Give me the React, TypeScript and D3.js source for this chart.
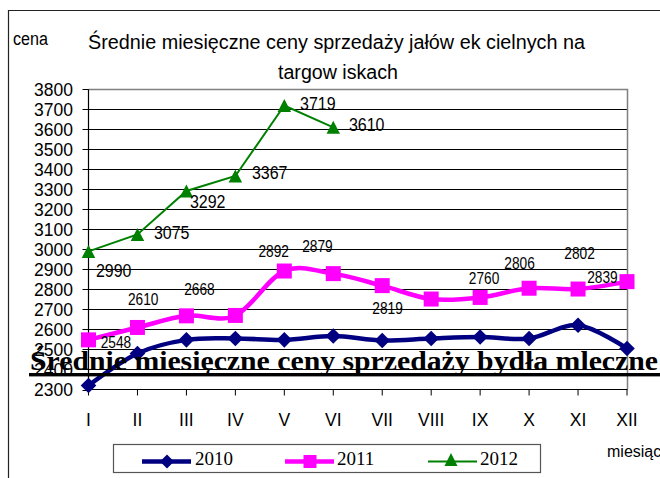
import React, { useRef, useEffect } from 'react';
import * as d3 from 'd3';

const months = ['I', 'II', 'III', 'IV', 'V', 'VI', 'VII', 'VIII', 'IX', 'X', 'XI', 'XII'];
const yTicks = [2300, 2400, 2500, 2600, 2700, 2800, 2900, 3000, 3100, 3200, 3300, 3400, 3500, 3600, 3700, 3800];

const prices2010 = [2320, 2480, 2548, 2555, 2548, 2567, 2545, 2555, 2562, 2555, 2621, 2505];
const prices2011 = [2548, 2610, 2668, 2670, 2892, 2879, 2819, 2752, 2760, 2806, 2802, 2839];
const prices2012 = [2990, 3075, 3292, 3367, 3719, 3610];

// which points carry a data label (Excel had them dragged around by hand)
const labeled2011 = [0, 1, 2, 4, 5, 6, 8, 9, 10, 11];
const labelOffset2011: [number, number][] = [
  [27.5, 1.8], [5.8, -28.2], [13, -26.8], [-10.6, -20.3], [-15.8, -27.6],
  [5.3, 22], [3.9, -19.1], [-9.5, -24.9], [1.5, -35.7], [-24.5, -4.9]
];
const labelOffset2012: [number, number][] = [
  [7.5, 19.3], [16.5, -1.4], [3.6, 10.7], [16.6, -3], [15.7, -1.5], [15.7, -2.3]
];

const legendItems = ['2010', '2011', '2012'];

const NAVY = '#000080';
const PINK = '#FF00FF';
const GREEN = '#008000';
const SANS = 'Arial, "Liberation Sans", sans-serif';
const SERIF = '"Times New Roman", "Liberation Serif", serif';

export default function App() {
  const width = 660;
  const height = 478;
  const svgRef = useRef<SVGSVGElement>(null);

  useEffect(() => {
    if (!svgRef.current) return;
    const svg = d3.select(svgRef.current);
    svg.selectAll('*').remove();

    const x = d3.scalePoint<string>().domain(months).range([88.5, 627]);
    const y = d3.scaleLinear().domain([2300, 3800]).range([389.5, 89.3]);

    // outer frame
    svg.append('path')
      .attr('d', 'M8.5,478 V10.5 H660')
      .attr('fill', 'none')
      .attr('stroke', '#222')
      .attr('stroke-width', 1.2);

    svg.append('text')
      .attr('x', 13).attr('y', 45)
      .attr('font-family', SANS).attr('font-size', 18)
      .attr('textLength', 35).attr('lengthAdjust', 'spacingAndGlyphs')
      .text('cena');

    svg.append('text')
      .attr('x', 88).attr('y', 48.5)
      .attr('font-family', SANS).attr('font-size', 20)
      .attr('textLength', 497).attr('lengthAdjust', 'spacingAndGlyphs')
      .text('Średnie miesięczne ceny sprzedaży jałów ek cielnych na');
    svg.append('text')
      .attr('x', 278).attr('y', 78.5)
      .attr('font-family', SANS).attr('font-size', 20)
      .attr('textLength', 120).attr('lengthAdjust', 'spacingAndGlyphs')
      .text('targow iskach');

    const [x0, x1] = x.range();

    // gridlines
    svg.append('g')
      .selectAll('line')
      .data(yTicks.filter(t => t > 2300 && t < 3800))
      .enter().append('line')
      .attr('x1', x0).attr('x2', x1)
      .attr('y1', d => Math.round(y(d)) + 0.5).attr('y2', d => Math.round(y(d)) + 0.5)
      .attr('stroke', '#000').attr('stroke-width', 1);

    // plot border top/right (grey)
    svg.append('path')
      .attr('d', `M${x0},${Math.round(y(3800)) + 0.5} H${x1 + 0.5} V${y(2300)}`)
      .attr('fill', 'none').attr('stroke', '#808080').attr('stroke-width', 1.5);

    // y axis
    const yAxis = svg.append('g');
    yAxis.append('line')
      .attr('x1', x0).attr('x2', x0).attr('y1', y(3800)).attr('y2', y(2300))
      .attr('stroke', '#000').attr('stroke-width', 1.2);
    yAxis.selectAll('line.tick')
      .data(yTicks)
      .enter().append('line')
      .attr('class', 'tick')
      .attr('x1', x0 - 6).attr('x2', x0)
      .attr('y1', d => Math.round(y(d)) + 0.5).attr('y2', d => Math.round(y(d)) + 0.5)
      .attr('stroke', '#000');
    yAxis.selectAll('text')
      .data(yTicks)
      .enter().append('text')
      .attr('x', 73).attr('y', d => y(d))
      .attr('dy', '0.36em')
      .attr('text-anchor', 'end')
      .attr('font-family', SANS).attr('font-size', 17.5)
      .text(d => d);

    // x axis
    const xAxis = svg.append('g');
    xAxis.append('line')
      .attr('x1', x0).attr('x2', x1 + 0.5).attr('y1', y(2300)).attr('y2', y(2300))
      .attr('stroke', '#000').attr('stroke-width', 1.2);
    xAxis.selectAll('line.tick')
      .data(months)
      .enter().append('line')
      .attr('class', 'tick')
      .attr('x1', d => x(d)!).attr('x2', d => x(d)!)
      .attr('y1', y(2300)).attr('y2', y(2300) + 6)
      .attr('stroke', '#000');
    xAxis.selectAll('text')
      .data(months)
      .enter().append('text')
      .attr('x', d => x(d)!).attr('y', 426)
      .attr('text-anchor', 'middle')
      .attr('font-family', SANS).attr('font-size', 17.5)
      .text(d => d);

    svg.append('text')
      .attr('x', 607).attr('y', 457)
      .attr('font-family', SANS).attr('font-size', 16)
      .text('miesiąc');

    const smooth = d3.line<number>()
      .x((_, i) => x(months[i])!)
      .y(d => y(d))
      .curve(d3.curveCardinal.tension(0));
    const straight = d3.line<number>()
      .x((_, i) => x(months[i])!)
      .y(d => y(d));

    const diamond = (s: number) => `M0,${-s} L${s},0 L0,${s} L${-s},0 Z`;
    const square = (s: number) => `M${-s},${-s} H${s} V${s} H${-s} Z`;
    const triangle = (w: number, h: number) => `M0,${-h / 2} L${w / 2},${h / 2} L${-w / 2},${h / 2} Z`;

    // 2010
    svg.append('path')
      .attr('d', smooth(prices2010))
      .attr('fill', 'none').attr('stroke', NAVY).attr('stroke-width', 4.5);
    svg.append('g').selectAll('path')
      .data(prices2010).enter().append('path')
      .attr('d', diamond(7.8))
      .attr('transform', (d, i) => `translate(${x(months[i])},${y(d)})`)
      .attr('fill', NAVY);

    // 2011
    svg.append('path')
      .attr('d', smooth(prices2011))
      .attr('fill', 'none').attr('stroke', PINK).attr('stroke-width', 4.5);
    svg.append('g').selectAll('path')
      .data(prices2011).enter().append('path')
      .attr('d', square(7.5))
      .attr('transform', (d, i) => `translate(${x(months[i])},${y(d)})`)
      .attr('fill', PINK);

    // 2012
    svg.append('path')
      .attr('d', straight(prices2012))
      .attr('fill', 'none').attr('stroke', GREEN).attr('stroke-width', 2);
    svg.append('g').selectAll('path')
      .data(prices2012).enter().append('path')
      .attr('d', triangle(13.5, 13))
      .attr('transform', (d, i) => `translate(${x(months[i])},${y(d)})`)
      .attr('fill', GREEN);

    // data labels
    svg.append('g').selectAll('text')
      .data(labeled2011).enter().append('text')
      .attr('x', (idx, k) => x(months[idx])! + labelOffset2011[k][0])
      .attr('y', (idx, k) => y(prices2011[idx]) + labelOffset2011[k][1])
      .attr('dy', '0.36em')
      .attr('text-anchor', 'middle')
      .attr('font-family', SANS).attr('font-size', 16.5)
      .attr('textLength', 30.5).attr('lengthAdjust', 'spacingAndGlyphs')
      .text(idx => prices2011[idx]);

    svg.append('g').selectAll('text')
      .data(prices2012).enter().append('text')
      .attr('x', (d, i) => x(months[i])! + labelOffset2012[i][0])
      .attr('y', (d, i) => y(d) + labelOffset2012[i][1])
      .attr('dy', '0.36em')
      .attr('font-family', SANS).attr('font-size', 17.5)
      .attr('textLength', 35.5).attr('lengthAdjust', 'spacingAndGlyphs')
      .text(d => d);

    // pasted heading lying over the chart
    svg.append('text')
      .attr('x', 30).attr('y', 369.5)
      .attr('font-family', SERIF).attr('font-size', 27).attr('font-weight', 'bold')
      .attr('textLength', 628).attr('lengthAdjust', 'spacingAndGlyphs')
      .text('Średnie miesięczne ceny sprzedaży bydła mleczne');
    svg.append('rect')
      .attr('x', 29).attr('y', 373).attr('width', 631).attr('height', 3.4)
      .attr('fill', '#000');

    // legend
    const legend = svg.append('g');
    legend.append('rect')
      .attr('x', 113.5).attr('y', 444.5).attr('width', 427).attr('height', 28)
      .attr('fill', '#fff').attr('stroke', '#555').attr('stroke-width', 1.2);
    const item = legend.selectAll('g.item')
      .data(legendItems).enter().append('g')
      .attr('class', 'item')
      .attr('transform', (_, i) => `translate(${142 + i * 143},461.5)`);
    const colors = [NAVY, PINK, GREEN];
    const widths = [4.5, 4.5, 2];
    item.append('line')
      .attr('x1', 0).attr('x2', 49).attr('y1', 0).attr('y2', 0)
      .attr('stroke', (_, i) => colors[i]).attr('stroke-width', (_, i) => widths[i]);
    item.append('path')
      .attr('d', (_, i) => i === 0 ? diamond(7) : i === 1 ? square(6.5) : triangle(13, 13))
      .attr('transform', (_, i) => `translate(${i === 2 ? 23 : 25},${i === 2 ? -2 : 0})`)
      .attr('fill', (_, i) => colors[i]);
    item.append('text')
      .attr('x', (_, i) => (i === 0 ? 53 : 52))
      .attr('y', 3)
      .attr('font-family', SERIF).attr('font-size', 19)
      .text(d => d);
  }, []);

  return (
    <svg ref={svgRef} width={width} height={height}
      style={{ position: 'absolute', left: 0, top: 0, background: '#fff' }} />
  );
}
